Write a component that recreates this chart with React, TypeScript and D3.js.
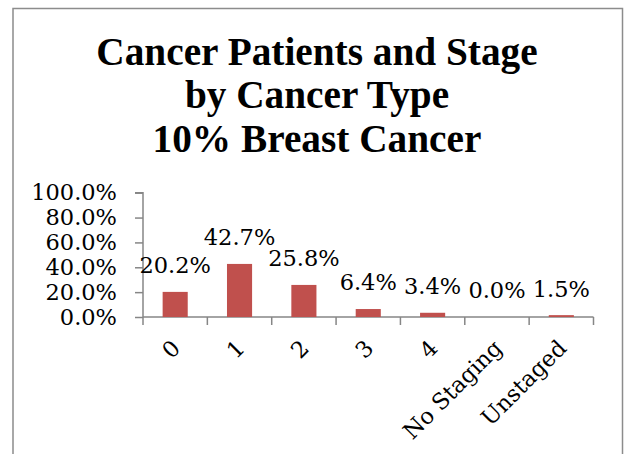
import React, { useEffect, useRef } from "react";
import * as d3 from "d3";

const categories = ["0", "1", "2", "3", "4", "No Staging", "Unstaged"];
const percentValues = [20.2, 42.7, 25.8, 6.4, 3.4, 0.0, 1.5];
const yTicks = [0, 20, 40, 60, 80, 100];
const titleLines = ["Cancer Patients and Stage", "by Cancer Type", "10% Breast Cancer"];

export default function App() {
  const ref = useRef<SVGSVGElement>(null);

  useEffect(() => {
    const svg = d3.select(ref.current);
    svg.selectAll("*").remove();

    const width = 625;
    const height = 454;
    const serif = "'DejaVu Serif', serif";
    const fs = 22.5;

    // chart frame (bottom edge runs off the picture)
    svg.append("rect").attr("x", 13).attr("y", 8.5).attr("width", 609.5).attr("height", 470)
      .attr("fill", "#fff").attr("stroke", "#8c8c8c").attr("stroke-width", 1.5);

    // title
    svg.append("g").selectAll("text").data(titleLines).join("text")
      .attr("x", 317).attr("y", (d, i) => 64.5 + i * 43.5)
      .attr("text-anchor", "middle")
      .attr("font-family", "'Liberation Serif', serif")
      .attr("font-weight", "bold").attr("font-size", 39.3)
      .attr("fill", "#000")
      .text((d) => d);

    const left = 143, right = 593.5, top = 192.7, bottom = 317;

    const x = d3.scaleBand().domain(categories).range([left, right]).paddingInner(0.61).paddingOuter(0.305);
    const y = d3.scaleLinear().domain([0, 100]).range([bottom, top]);

    // y axis
    const ya = svg.append("g").attr("transform", `translate(${left},0)`)
      .call(d3.axisLeft(y).tickValues(yTicks).tickSize(8).tickFormat((d) => `${(+d).toFixed(1)}%`));
    ya.select(".domain").attr("stroke", "#868686").attr("stroke-width", 1.5).attr("d", `M-8,${top}H0V${bottom}`);
    ya.selectAll(".tick line").attr("stroke", "#868686").attr("stroke-width", 1.5);
    ya.selectAll(".tick text").attr("x", -26).attr("font-family", serif).attr("font-size", fs).attr("fill", "#000");

    // x axis
    const xa = svg.append("g").attr("transform", `translate(0,${bottom})`)
      .call(d3.axisBottom(x).tickSize(0).tickFormat(() => ""));
    xa.select(".domain").attr("stroke", "#868686").attr("stroke-width", 1.5).attr("d", `M${left},0H${right}`);
    const step = (right - left) / categories.length;
    xa.selectAll(".sep").data(d3.range(categories.length + 1)).join("line")
      .attr("x1", (i) => left + i * step).attr("x2", (i) => left + i * step)
      .attr("y1", 0).attr("y2", 8).attr("stroke", "#868686").attr("stroke-width", 1.5);

    // rotated category labels
    svg.append("g").selectAll("text").data(categories).join("text")
      .attr("transform", (d) => `translate(${x(d)! + x.bandwidth() / 2 + 1},${bottom + 27}) rotate(-45)`)
      .attr("text-anchor", "end").attr("dy", "0.35em")
      .attr("font-family", serif).attr("font-size", fs).attr("fill", "#000")
      .text((d) => d);

    // bars
    svg.append("g").selectAll("rect").data(percentValues).join("rect")
      .attr("x", (d, i) => x(categories[i])!)
      .attr("y", (d) => y(d))
      .attr("width", x.bandwidth())
      .attr("height", (d) => bottom - y(d))
      .attr("fill", "#c0504d");

    // value labels
    svg.append("g").selectAll("text").data(percentValues).join("text")
      .attr("x", (d, i) => x(categories[i])! + x.bandwidth() / 2)
      .attr("y", (d) => y(d) - 18.6)
      .attr("text-anchor", "middle")
      .attr("font-family", serif).attr("font-size", fs).attr("fill", "#000")
      .text((d) => `${d.toFixed(1)}%`);

    svg.attr("width", width).attr("height", height);
  }, []);

  return (
    <svg ref={ref} width={625} height={454}
      style={{ position: "absolute", left: 0, top: 0, background: "#fff" }} />
  );
}
